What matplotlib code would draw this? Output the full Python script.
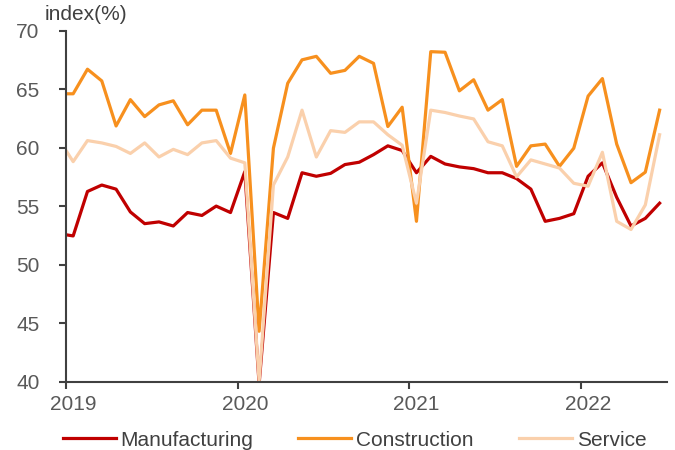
import matplotlib.pyplot as plt
import numpy as np

plt.rcParams['font.family'] = ['Liberation Sans', 'DejaVu Sans']

# ---------------------------------------------
# Monthly index values, Dec 2018 .. Jun 2022
# (Dec 2018 sits left of the axis and is clipped)
# ---------------------------------------------
manufacturing = [52.65,
                 52.45, 56.25, 56.8, 56.45, 54.5, 53.5, 53.65, 53.3, 54.45, 54.2, 55.0, 54.45,
                 57.95, 39.8, 54.45, 53.95, 57.85, 57.55, 57.8, 58.55, 58.75, 59.4, 60.15, 59.75,
                 57.85, 59.25, 58.6, 58.35, 58.2, 57.85, 57.85, 57.35, 56.45, 53.7, 53.95, 54.35,
                 57.55, 58.7, 55.75, 53.3, 53.95, 55.25]
construction = [64.6,
                64.6, 66.7, 65.7, 61.85, 64.1, 62.65, 63.65, 64.0, 61.95, 63.2, 63.2, 59.5,
                64.5, 44.3, 59.95, 65.5, 67.5, 67.8, 66.35, 66.6, 67.8, 67.2, 61.8, 63.45,
                53.7, 68.2, 68.15, 64.85, 65.8, 63.2, 64.1, 58.4, 60.15, 60.3, 58.4, 59.95,
                64.4, 65.9, 60.3, 57.0, 57.9, 63.2]
service = [60.7,
           58.8, 60.6, 60.4, 60.1, 59.5, 60.4, 59.2, 59.85, 59.4, 60.4, 60.6, 59.1,
           58.7, 40.0, 56.8, 59.2, 63.2, 59.2, 61.45, 61.3, 62.2, 62.2, 61.1, 60.2,
           55.25, 63.2, 63.0, 62.7, 62.45, 60.5, 60.15, 57.5, 58.95, 58.6, 58.25, 56.95,
           56.7, 59.6, 53.7, 53.0, 55.1, 61.1]

years = ["2019", "2020", "2021", "2022"]
y_ticks = [40, 45, 50, 55, 60, 65, 70]

# months counted from 1 Jan 2019, points at mid-month
x = np.arange(len(manufacturing)) - 1 + 0.5
year_starts = np.arange(len(years)) * 12

fig = plt.figure(figsize=(6.75, 4.5), dpi=100)
ax = fig.add_axes([0.0978, 0.152, 0.89, 0.780])

ax.plot(x, manufacturing, color="#C00000", lw=2.3, label="Manufacturing")
ax.plot(x, construction, color="#F7901E", lw=2.3, label="Construction")
ax.plot(x, service, color="#FAD0AC", lw=2.3, label="Service")

ax.set_xlim(0, 42)
ax.set_ylim(40, 70)

# tick marks at year boundaries, labels under each January
ax.set_xticks(year_starts)
ax.set_xticklabels([])
ax.set_xticks(year_starts + 0.5, minor=True)
ax.set_xticklabels(years, minor=True)
ax.set_yticks(y_ticks)

spine_col = "#404040"
for s in ["top", "right"]:
    ax.spines[s].set_visible(False)
for s in ["left", "bottom"]:
    ax.spines[s].set_color(spine_col)
    ax.spines[s].set_linewidth(1.5)
ax.tick_params(axis="both", which="major", colors=spine_col, length=5, width=1.5)
ax.tick_params(axis="y", labelcolor="#595959", labelsize=15, pad=14)
ax.tick_params(axis="x", which="minor", length=0, labelcolor="#595959",
               labelsize=15, pad=10)

fig.text(45 / 675, 1 - 15 / 450, "index(%)", fontsize=15, color="#404040",
         va="center", ha="left")

fig.legend(loc="center", bbox_to_anchor=(354.5 / 675, 1 - 440 / 450), ncol=3,
           frameon=False, fontsize=15, handlelength=2.55, handletextpad=0.24,
           columnspacing=2.15, labelcolor="#404040")

fig.savefig("out.png", dpi=100)
